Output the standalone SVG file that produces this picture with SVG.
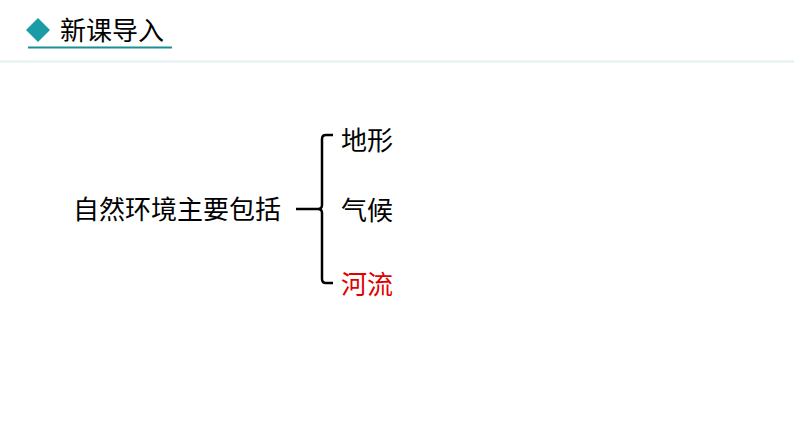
<svg xmlns="http://www.w3.org/2000/svg" width="794" height="447" viewBox="0 0 794 447">
<style>
.t{font-family:"Noto Sans CJK SC","Liberation Sans",sans-serif;font-size:26px;fill:#000}
</style>
<rect width="794" height="447" fill="#fff"/>
<g id="header">
<polygon points="38,18 50,30 38,42 26,30" fill="#1a9ba6"/>
<text class="t" x="60" y="40" font-size="26.5">新课导入</text>
<line x1="28" y1="47.5" x2="172" y2="47.5" stroke="#1a8f96" stroke-width="2"/>
<line x1="0" y1="61.5" x2="794" y2="61.5" stroke="#e2f0f0" stroke-width="2"/>
</g>
<g id="root"><text class="t" x="73" y="219">自然环境主要包括</text></g>
<g id="n1"><text class="t" x="341" y="150">地形</text></g>
<g id="n2"><text class="t" x="341" y="220">气候</text></g>
<g id="n3"><text class="t" x="341" y="294" style="fill:#e00000">河流</text></g>
<g id="connectors" fill="none" stroke="#000" stroke-width="2.5">
<path d="M333,135 H326 Q322,135 322,139 V205 Q322,209 318,209 H296 M318,209 Q322,209 322,213 V279 Q322,283 326,283 H333"/>
</g>
</svg>
